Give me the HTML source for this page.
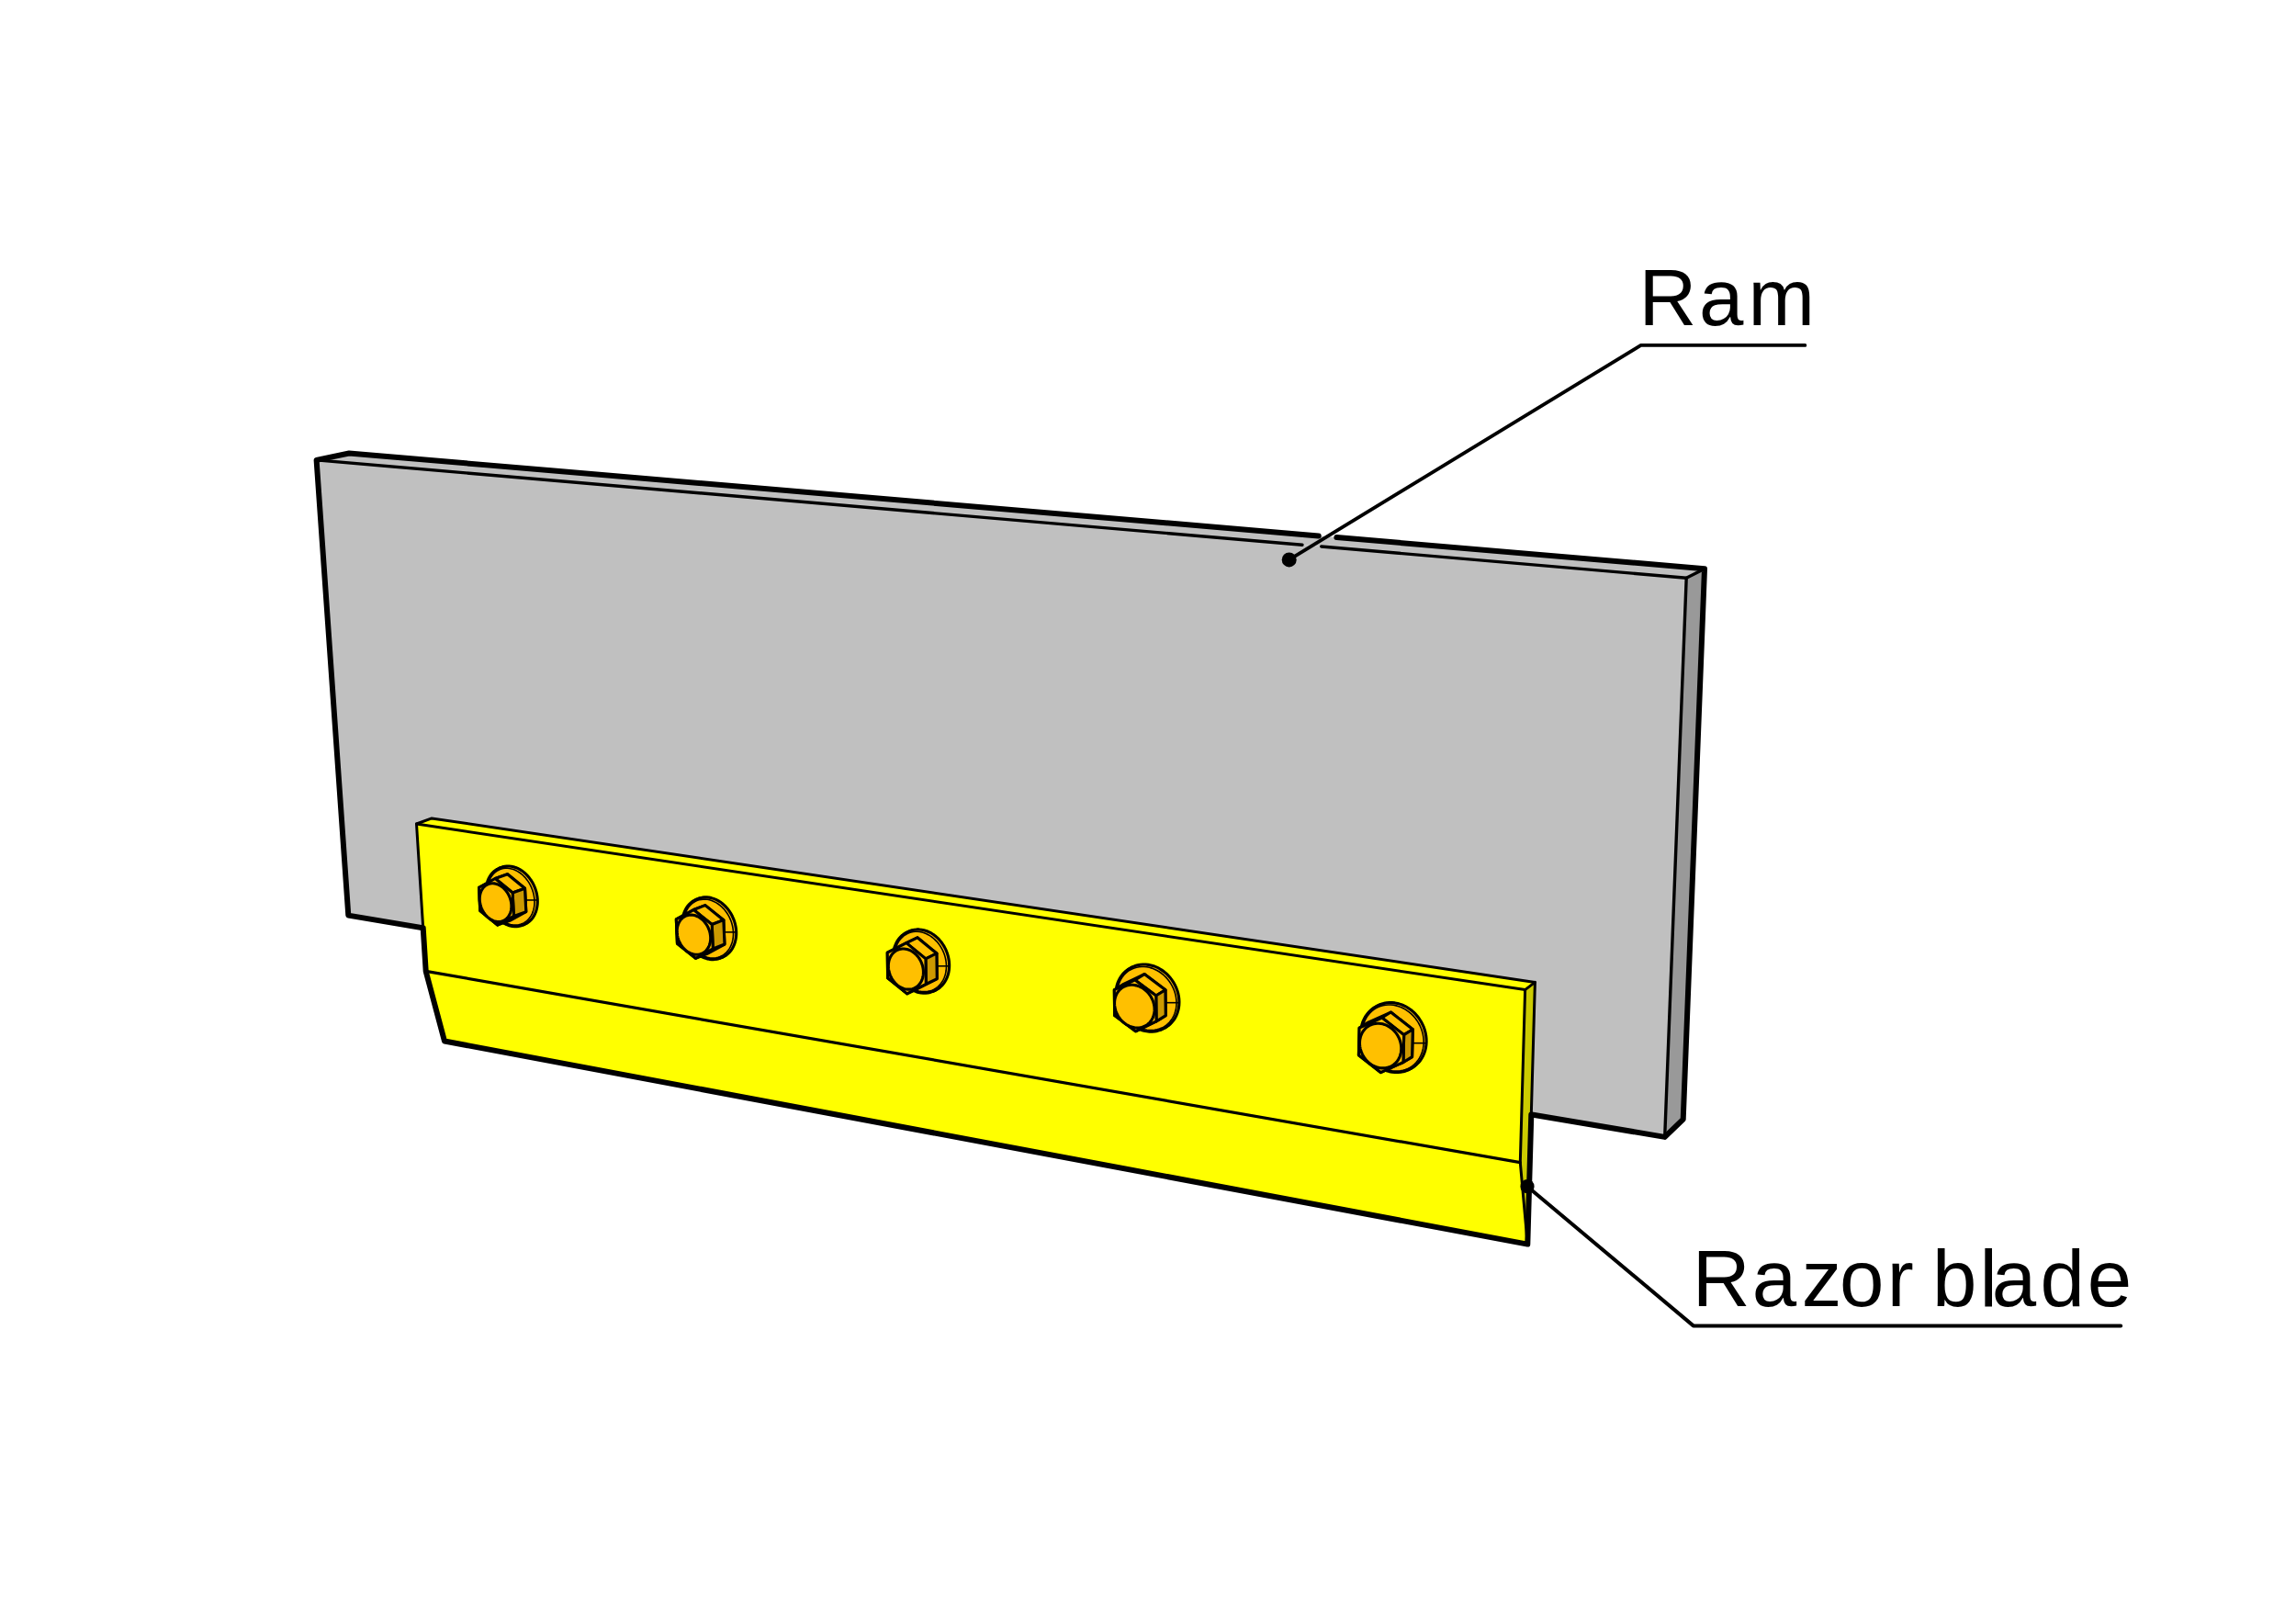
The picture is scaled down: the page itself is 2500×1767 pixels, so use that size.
<!DOCTYPE html>
<html><head><meta charset="utf-8">
<style>
html,body{margin:0;padding:0;background:#fff;width:2500px;height:1767px;overflow:hidden}
svg{display:block}
text{font-family:"Liberation Sans",sans-serif}
</style></head>
<body>
<svg width="2500" height="1767" viewBox="0 0 2500 1767">
<defs>

</defs>
<g stroke-linejoin="round" stroke-linecap="round">
<!-- RAM faces -->
<polygon points="344.6,500.9 1836.2,629.2 1812.7,1237.9 379.3,996.6" fill="#c0c0c0"/>
<polygon points="344.6,500.9 380.1,493.5 1856,619.2 1836.2,629.2" fill="#c0c0c0"/>
<polygon points="1836.2,629.2 1856,619.2 1832.7,1218.7 1812.7,1237.9" fill="#999"/>
<g fill="none" stroke="#000">
<polyline points="344.6,500.9 1418,593.22" stroke-width="3.4"/>
<polyline points="1438.7,595.00 1836.2,629.2 1856,619.2" stroke-width="3.4"/>
<line x1="1836.2" y1="629.2" x2="1812.7" y2="1237.9" stroke-width="3.4"/>
<polyline points="1435.7,583.41 380.1,493.5 344.6,500.9 379.3,996.6 1812.7,1237.9 1832.7,1218.7 1856,619.2 1455.4,585.08" stroke-width="6"/>
</g>
<!-- BLADE faces -->
<polygon points="453.5,897 1660.6,1077.6 1655.3,1265.6 463.7,1057.4" fill="#ffff00"/>
<polygon points="453.5,897 470.1,890.9 1671.4,1069.4 1660.6,1077.6" fill="#ffff00"/>
<polygon points="463.7,1057.4 1655.3,1265.6 1663.3,1354.6 484,1133.5" fill="#ffff00"/>
<polygon points="1660.6,1077.6 1671.4,1069.4 1663.3,1354.6 1655.3,1265.6" fill="#cccc00"/>
<g fill="none" stroke="#000">
<polyline points="453.5,897 1660.6,1077.6 1671.4,1069.4" stroke-width="3"/>
<polyline points="1660.6,1077.6 1655.3,1265.6 1663.3,1354.6" stroke-width="3"/>
<line x1="463.7" y1="1057.4" x2="1655.3" y2="1265.6" stroke-width="3.2"/>
<polyline points="460.7,1010.3 453.5,897 470.1,890.9 1671.4,1069.4 1667.3,1213.4" stroke-width="3"/>
<polyline points="1667.3,1213.4 1663.3,1354.6 484,1133.5 463.7,1057.4 460.7,1010.3" stroke-width="6"/>
</g>
</g>
<!--BOLTS-->
<g stroke-linejoin="round"><path d="M583.72,979.37 L583.77,982.03 L583.63,984.64 L583.29,987.18 L582.76,989.64 L582.05,991.99 L581.15,994.21 L580.07,996.29 L578.83,998.21 L577.44,999.96 L575.89,1001.52 L574.21,1002.89 L572.41,1004.05 L570.50,1004.99 L568.49,1005.70 L566.41,1006.19 L564.26,1006.44 L562.06,1006.46 L559.84,1006.25 L557.60,1005.80 L555.37,1005.11 L553.16,1004.21 L550.98,1003.08 L548.86,1001.75 L546.81,1000.22 L544.85,998.50 L542.99,996.60 L541.24,994.54 L539.62,992.34 L538.14,990.01 L536.82,987.57 L535.65,985.04 L534.66,982.44 L533.85,979.79 L533.22,977.10 L532.78,974.40 L532.53,971.71 L532.48,969.05 L532.62,966.43 L532.96,963.89 L533.49,961.44 L534.20,959.09 L535.10,956.87 L536.18,954.79 L537.42,952.86 L538.81,951.11 L540.36,949.55 L542.04,948.19 L543.84,947.03 L545.75,946.09 L547.76,945.37 L549.84,944.88 L551.99,944.63 L554.18,944.61 L556.41,944.83 L558.65,945.28 L560.88,945.96 L563.09,946.87 L565.27,947.99 L567.39,949.32 L569.44,950.86 L571.40,952.58 L573.26,954.47 L575.01,956.53 L576.63,958.73 L578.11,961.06 L579.43,963.50 L580.60,966.03 L581.59,968.63 L582.40,971.29 L583.03,973.98 L583.47,976.68Z" fill="none" stroke="#000" stroke-width="6.2"/><path d="M581.95,980.00 L582.01,982.66 L581.86,985.27 L581.53,987.81 L581.00,990.27 L580.28,992.62 L579.38,994.84 L578.31,996.92 L577.07,998.84 L575.67,1000.59 L574.12,1002.15 L572.44,1003.52 L570.64,1004.68 L568.73,1005.62 L566.72,1006.33 L564.64,1006.82 L562.49,1007.07 L560.30,1007.09 L558.07,1006.88 L555.84,1006.42 L553.60,1005.74 L551.39,1004.84 L549.22,1003.71 L547.10,1002.38 L545.05,1000.85 L543.08,999.12 L541.22,997.23 L539.47,995.17 L537.86,992.97 L536.38,990.64 L535.05,988.20 L533.89,985.67 L532.89,983.07 L532.08,980.41 L531.45,977.73 L531.01,975.03 L530.76,972.34 L530.71,969.67 L530.86,967.06 L531.19,964.52 L531.72,962.06 L532.44,959.72 L533.34,957.50 L534.41,955.42 L535.65,953.49 L537.05,951.74 L538.59,950.18 L540.27,948.81 L542.08,947.66 L543.99,946.72 L545.99,946.00 L548.08,945.51 L550.22,945.26 L552.42,945.24 L554.64,945.46 L556.88,945.91 L559.11,946.59 L561.33,947.50 L563.50,948.62 L565.62,949.95 L567.67,951.49 L569.63,953.21 L571.50,955.10 L573.24,957.16 L574.86,959.36 L576.34,961.69 L577.67,964.13 L578.83,966.66 L579.82,969.26 L580.64,971.92 L581.27,974.61 L581.71,977.31Z" fill="none" stroke="#000" stroke-width="6.2"/><path d="M583.72,979.37 L583.77,982.03 L583.63,984.64 L583.29,987.18 L582.76,989.64 L582.05,991.99 L581.15,994.21 L580.07,996.29 L578.83,998.21 L577.44,999.96 L575.89,1001.52 L574.21,1002.89 L572.41,1004.05 L570.50,1004.99 L568.49,1005.70 L566.41,1006.19 L564.26,1006.44 L562.06,1006.46 L559.84,1006.25 L557.60,1005.80 L555.37,1005.11 L553.16,1004.21 L550.98,1003.08 L548.86,1001.75 L546.81,1000.22 L544.85,998.50 L542.99,996.60 L541.24,994.54 L539.62,992.34 L538.14,990.01 L536.82,987.57 L535.65,985.04 L534.66,982.44 L533.85,979.79 L533.22,977.10 L532.78,974.40 L532.53,971.71 L532.48,969.05 L532.62,966.43 L532.96,963.89 L533.49,961.44 L534.20,959.09 L535.10,956.87 L536.18,954.79 L537.42,952.86 L538.81,951.11 L540.36,949.55 L542.04,948.19 L543.84,947.03 L545.75,946.09 L547.76,945.37 L549.84,944.88 L551.99,944.63 L554.18,944.61 L556.41,944.83 L558.65,945.28 L560.88,945.96 L563.09,946.87 L565.27,947.99 L567.39,949.32 L569.44,950.86 L571.40,952.58 L573.26,954.47 L575.01,956.53 L576.63,958.73 L578.11,961.06 L579.43,963.50 L580.60,966.03 L581.59,968.63 L582.40,971.29 L583.03,973.98 L583.47,976.68Z" fill="#ffc000"/><path d="M581.95,980.00 L582.01,982.66 L581.86,985.27 L581.53,987.81 L581.00,990.27 L580.28,992.62 L579.38,994.84 L578.31,996.92 L577.07,998.84 L575.67,1000.59 L574.12,1002.15 L572.44,1003.52 L570.64,1004.68 L568.73,1005.62 L566.72,1006.33 L564.64,1006.82 L562.49,1007.07 L560.30,1007.09 L558.07,1006.88 L555.84,1006.42 L553.60,1005.74 L551.39,1004.84 L549.22,1003.71 L547.10,1002.38 L545.05,1000.85 L543.08,999.12 L541.22,997.23 L539.47,995.17 L537.86,992.97 L536.38,990.64 L535.05,988.20 L533.89,985.67 L532.89,983.07 L532.08,980.41 L531.45,977.73 L531.01,975.03 L530.76,972.34 L530.71,969.67 L530.86,967.06 L531.19,964.52 L531.72,962.06 L532.44,959.72 L533.34,957.50 L534.41,955.42 L535.65,953.49 L537.05,951.74 L538.59,950.18 L540.27,948.81 L542.08,947.66 L543.99,946.72 L545.99,946.00 L548.08,945.51 L550.22,945.26 L552.42,945.24 L554.64,945.46 L556.88,945.91 L559.11,946.59 L561.33,947.50 L563.50,948.62 L565.62,949.95 L567.67,951.49 L569.63,953.21 L571.50,955.10 L573.24,957.16 L574.86,959.36 L576.34,961.69 L577.67,964.13 L578.83,966.66 L579.82,969.26 L580.64,971.92 L581.27,974.61 L581.71,977.31Z" fill="#ffc000" stroke="#000" stroke-width="1.6"/><line x1="572.16" y1="979.97" x2="584.99" y2="979.97" stroke="#000" stroke-width="1.6"/><polygon points="521.53,966.26 539.21,956.50 552.60,951.73 571.53,967.30 572.79,992.64 555.10,1002.39 541.72,1007.16 522.78,991.59" fill="#ffc000" stroke="#000" stroke-width="3.1"/><polygon points="539.21,956.50 558.15,972.07 571.53,967.30 552.60,951.73" fill="#ffc000" stroke="#000" stroke-width="3.1"/><polygon points="558.15,972.07 559.40,997.40 572.79,992.64 571.53,967.30" fill="#cc9900" stroke="#000" stroke-width="3.1"/><polygon points="521.53,966.26 539.21,956.50 558.15,972.07 559.40,997.40 541.72,1007.16 522.78,991.59" fill="#ffc000" stroke="#000" stroke-width="3.1"/><path d="M556.85,985.22 L556.89,987.01 L556.79,988.78 L556.56,990.50 L556.21,992.15 L555.72,993.74 L555.12,995.24 L554.39,996.65 L553.55,997.94 L552.61,999.12 L551.57,1000.18 L550.43,1001.10 L549.21,1001.89 L547.92,1002.52 L546.57,1003.00 L545.16,1003.33 L543.71,1003.50 L542.23,1003.52 L540.73,1003.37 L539.21,1003.07 L537.71,1002.61 L536.21,1001.99 L534.74,1001.23 L533.31,1000.33 L531.93,999.30 L530.60,998.14 L529.34,996.86 L528.16,995.47 L527.07,993.98 L526.07,992.41 L525.18,990.76 L524.39,989.05 L523.72,987.29 L523.17,985.50 L522.74,983.68 L522.45,981.86 L522.28,980.04 L522.25,978.25 L522.34,976.48 L522.57,974.76 L522.93,973.11 L523.41,971.52 L524.02,970.02 L524.74,968.61 L525.58,967.32 L526.52,966.13 L527.57,965.08 L528.70,964.16 L529.92,963.37 L531.21,962.74 L532.57,962.26 L533.97,961.93 L535.42,961.76 L536.91,961.74 L538.41,961.89 L539.92,962.19 L541.43,962.65 L542.92,963.27 L544.39,964.02 L545.82,964.93 L547.21,965.96 L548.53,967.12 L549.79,968.40 L550.97,969.79 L552.06,971.28 L553.06,972.85 L553.96,974.50 L554.74,976.21 L555.41,977.97 L555.96,979.76 L556.39,981.58 L556.69,983.40Z" fill="#ffc000" stroke="#000" stroke-width="3.1"/></g>
<g stroke-linejoin="round"><path d="M800.16,1014.46 L800.17,1017.21 L799.97,1019.91 L799.56,1022.54 L798.96,1025.07 L798.16,1027.50 L797.16,1029.79 L795.99,1031.94 L794.64,1033.92 L793.13,1035.72 L791.46,1037.34 L789.66,1038.74 L787.73,1039.93 L785.69,1040.90 L783.55,1041.63 L781.33,1042.13 L779.05,1042.38 L776.73,1042.39 L774.38,1042.16 L772.02,1041.69 L769.66,1040.98 L767.34,1040.03 L765.06,1038.86 L762.84,1037.48 L760.69,1035.89 L758.64,1034.10 L756.71,1032.13 L754.89,1030.00 L753.22,1027.72 L751.70,1025.31 L750.34,1022.78 L749.15,1020.17 L748.15,1017.47 L747.34,1014.72 L746.72,1011.94 L746.30,1009.15 L746.09,1006.37 L746.08,1003.62 L746.28,1000.92 L746.69,998.29 L747.29,995.75 L748.09,993.33 L749.09,991.04 L750.26,988.89 L751.61,986.91 L753.12,985.10 L754.79,983.49 L756.59,982.09 L758.52,980.90 L760.56,979.93 L762.70,979.20 L764.92,978.70 L767.20,978.44 L769.52,978.43 L771.87,978.66 L774.23,979.14 L776.59,979.85 L778.91,980.79 L781.19,981.96 L783.41,983.35 L785.56,984.94 L787.60,986.73 L789.54,988.69 L791.36,990.82 L793.03,993.11 L794.55,995.52 L795.91,998.04 L797.10,1000.66 L798.10,1003.36 L798.91,1006.10 L799.53,1008.88 L799.95,1011.68Z" fill="none" stroke="#000" stroke-width="6.2"/><path d="M798.48,1015.11 L798.49,1017.86 L798.29,1020.56 L797.88,1023.19 L797.28,1025.72 L796.48,1028.15 L795.48,1030.44 L794.31,1032.59 L792.96,1034.57 L791.45,1036.37 L789.78,1037.98 L787.98,1039.39 L786.05,1040.58 L784.01,1041.55 L781.87,1042.28 L779.65,1042.78 L777.37,1043.03 L775.05,1043.04 L772.70,1042.81 L770.34,1042.34 L767.98,1041.63 L765.66,1040.68 L763.38,1039.51 L761.16,1038.13 L759.01,1036.54 L756.97,1034.75 L755.03,1032.78 L753.21,1030.65 L751.54,1028.37 L750.02,1025.96 L748.66,1023.43 L747.47,1020.81 L746.47,1018.12 L745.66,1015.37 L745.04,1012.59 L744.62,1009.80 L744.41,1007.02 L744.40,1004.27 L744.60,1001.57 L745.01,998.94 L745.61,996.40 L746.41,993.98 L747.41,991.68 L748.58,989.54 L749.93,987.56 L751.44,985.75 L753.11,984.14 L754.91,982.73 L756.84,981.54 L758.88,980.58 L761.02,979.84 L763.24,979.35 L765.52,979.09 L767.84,979.08 L770.19,979.31 L772.55,979.79 L774.91,980.50 L777.23,981.44 L779.51,982.61 L781.73,984.00 L783.88,985.59 L785.92,987.38 L787.86,989.34 L789.68,991.47 L791.35,993.75 L792.87,996.17 L794.23,998.69 L795.42,1001.31 L796.42,1004.01 L797.23,1006.75 L797.85,1009.53 L798.27,1012.33Z" fill="none" stroke="#000" stroke-width="6.2"/><path d="M800.16,1014.46 L800.17,1017.21 L799.97,1019.91 L799.56,1022.54 L798.96,1025.07 L798.16,1027.50 L797.16,1029.79 L795.99,1031.94 L794.64,1033.92 L793.13,1035.72 L791.46,1037.34 L789.66,1038.74 L787.73,1039.93 L785.69,1040.90 L783.55,1041.63 L781.33,1042.13 L779.05,1042.38 L776.73,1042.39 L774.38,1042.16 L772.02,1041.69 L769.66,1040.98 L767.34,1040.03 L765.06,1038.86 L762.84,1037.48 L760.69,1035.89 L758.64,1034.10 L756.71,1032.13 L754.89,1030.00 L753.22,1027.72 L751.70,1025.31 L750.34,1022.78 L749.15,1020.17 L748.15,1017.47 L747.34,1014.72 L746.72,1011.94 L746.30,1009.15 L746.09,1006.37 L746.08,1003.62 L746.28,1000.92 L746.69,998.29 L747.29,995.75 L748.09,993.33 L749.09,991.04 L750.26,988.89 L751.61,986.91 L753.12,985.10 L754.79,983.49 L756.59,982.09 L758.52,980.90 L760.56,979.93 L762.70,979.20 L764.92,978.70 L767.20,978.44 L769.52,978.43 L771.87,978.66 L774.23,979.14 L776.59,979.85 L778.91,980.79 L781.19,981.96 L783.41,983.35 L785.56,984.94 L787.60,986.73 L789.54,988.69 L791.36,990.82 L793.03,993.11 L794.55,995.52 L795.91,998.04 L797.10,1000.66 L798.10,1003.36 L798.91,1006.10 L799.53,1008.88 L799.95,1011.68Z" fill="#ffc000"/><path d="M798.48,1015.11 L798.49,1017.86 L798.29,1020.56 L797.88,1023.19 L797.28,1025.72 L796.48,1028.15 L795.48,1030.44 L794.31,1032.59 L792.96,1034.57 L791.45,1036.37 L789.78,1037.98 L787.98,1039.39 L786.05,1040.58 L784.01,1041.55 L781.87,1042.28 L779.65,1042.78 L777.37,1043.03 L775.05,1043.04 L772.70,1042.81 L770.34,1042.34 L767.98,1041.63 L765.66,1040.68 L763.38,1039.51 L761.16,1038.13 L759.01,1036.54 L756.97,1034.75 L755.03,1032.78 L753.21,1030.65 L751.54,1028.37 L750.02,1025.96 L748.66,1023.43 L747.47,1020.81 L746.47,1018.12 L745.66,1015.37 L745.04,1012.59 L744.62,1009.80 L744.41,1007.02 L744.40,1004.27 L744.60,1001.57 L745.01,998.94 L745.61,996.40 L746.41,993.98 L747.41,991.68 L748.58,989.54 L749.93,987.56 L751.44,985.75 L753.11,984.14 L754.91,982.73 L756.84,981.54 L758.88,980.58 L761.02,979.84 L763.24,979.35 L765.52,979.09 L767.84,979.08 L770.19,979.31 L772.55,979.79 L774.91,980.50 L777.23,981.44 L779.51,982.61 L781.73,984.00 L783.88,985.59 L785.92,987.38 L787.86,989.34 L789.68,991.47 L791.35,993.75 L792.87,996.17 L794.23,998.69 L795.42,1001.31 L796.42,1004.01 L797.23,1006.75 L797.85,1009.53 L798.27,1012.33Z" fill="#ffc000" stroke="#000" stroke-width="1.6"/><line x1="788.40" y1="1014.86" x2="801.46" y2="1014.86" stroke="#000" stroke-width="1.6"/><polygon points="736.33,1000.88 755.21,990.52 767.85,985.65 787.84,1001.67 788.96,1028.05 770.08,1038.40 757.44,1043.28 737.44,1027.25" fill="#ffc000" stroke="#000" stroke-width="3.1"/><polygon points="755.21,990.52 775.21,1006.55 787.84,1001.67 767.85,985.65" fill="#ffc000" stroke="#000" stroke-width="3.1"/><polygon points="775.21,1006.55 776.32,1032.92 788.96,1028.05 787.84,1001.67" fill="#cc9900" stroke="#000" stroke-width="3.1"/><polygon points="736.33,1000.88 755.21,990.52 775.21,1006.55 776.32,1032.92 757.44,1043.28 737.44,1027.25" fill="#ffc000" stroke="#000" stroke-width="3.1"/><path d="M773.69,1020.43 L773.69,1022.29 L773.56,1024.12 L773.28,1025.89 L772.87,1027.60 L772.33,1029.24 L771.66,1030.79 L770.87,1032.24 L769.96,1033.58 L768.94,1034.80 L767.81,1035.88 L766.59,1036.83 L765.29,1037.64 L763.91,1038.29 L762.47,1038.79 L760.97,1039.12 L759.43,1039.29 L757.86,1039.30 L756.27,1039.14 L754.68,1038.82 L753.09,1038.34 L751.52,1037.71 L749.98,1036.92 L748.48,1035.98 L747.03,1034.91 L745.65,1033.70 L744.34,1032.37 L743.11,1030.93 L741.98,1029.39 L740.96,1027.76 L740.04,1026.06 L739.24,1024.29 L738.56,1022.47 L738.01,1020.61 L737.59,1018.73 L737.31,1016.85 L737.17,1014.97 L737.16,1013.11 L737.30,1011.29 L737.57,1009.51 L737.98,1007.80 L738.52,1006.16 L739.19,1004.61 L739.98,1003.16 L740.90,1001.82 L741.92,1000.61 L743.04,999.52 L744.26,998.57 L745.56,997.76 L746.94,997.11 L748.39,996.62 L749.88,996.28 L751.42,996.11 L752.99,996.10 L754.58,996.26 L756.18,996.58 L757.76,997.06 L759.34,997.70 L760.88,998.49 L762.38,999.42 L763.82,1000.50 L765.21,1001.70 L766.52,1003.03 L767.74,1004.47 L768.87,1006.01 L769.90,1007.64 L770.82,1009.35 L771.62,1011.12 L772.30,1012.93 L772.85,1014.79 L773.26,1016.67 L773.54,1018.55Z" fill="#ffc000" stroke="#000" stroke-width="3.1"/></g>
<g stroke-linejoin="round"><path d="M1032.10,1050.38 L1032.05,1053.19 L1031.79,1055.95 L1031.32,1058.63 L1030.64,1061.22 L1029.75,1063.69 L1028.67,1066.03 L1027.40,1068.22 L1025.95,1070.24 L1024.33,1072.08 L1022.55,1073.72 L1020.64,1075.15 L1018.59,1076.36 L1016.44,1077.34 L1014.19,1078.08 L1011.86,1078.58 L1009.47,1078.83 L1007.03,1078.84 L1004.57,1078.59 L1002.11,1078.10 L999.66,1077.36 L997.24,1076.39 L994.88,1075.19 L992.58,1073.77 L990.36,1072.13 L988.25,1070.30 L986.26,1068.29 L984.40,1066.10 L982.69,1063.77 L981.15,1061.30 L979.77,1058.71 L978.58,1056.03 L977.58,1053.28 L976.78,1050.47 L976.18,1047.63 L975.80,1044.77 L975.63,1041.93 L975.68,1039.12 L975.94,1036.36 L976.41,1033.68 L977.09,1031.09 L977.98,1028.62 L979.06,1026.28 L980.33,1024.09 L981.78,1022.07 L983.40,1020.23 L985.17,1018.59 L987.09,1017.16 L989.13,1015.95 L991.29,1014.97 L993.54,1014.23 L995.87,1013.73 L998.26,1013.47 L1000.70,1013.47 L1003.15,1013.72 L1005.62,1014.21 L1008.07,1014.94 L1010.49,1015.91 L1012.85,1017.12 L1015.15,1018.54 L1017.37,1020.17 L1019.48,1022.00 L1021.47,1024.02 L1023.32,1026.20 L1025.03,1028.54 L1026.58,1031.01 L1027.96,1033.59 L1029.15,1036.27 L1030.15,1039.03 L1030.95,1041.84 L1031.54,1044.68 L1031.93,1047.53Z" fill="none" stroke="#000" stroke-width="6.2"/><path d="M1030.44,1051.19 L1030.39,1054.00 L1030.13,1056.76 L1029.66,1059.44 L1028.98,1062.03 L1028.09,1064.50 L1027.01,1066.84 L1025.74,1069.03 L1024.29,1071.05 L1022.67,1072.89 L1020.90,1074.53 L1018.98,1075.96 L1016.94,1077.17 L1014.78,1078.15 L1012.53,1078.89 L1010.20,1079.39 L1007.81,1079.65 L1005.37,1079.65 L1002.92,1079.40 L1000.45,1078.91 L998.00,1078.18 L995.58,1077.21 L993.22,1076.00 L990.92,1074.58 L988.70,1072.95 L986.59,1071.11 L984.60,1069.10 L982.74,1066.92 L981.04,1064.58 L979.49,1062.11 L978.11,1059.53 L976.92,1056.85 L975.92,1054.09 L975.12,1051.28 L974.53,1048.44 L974.14,1045.58 L973.97,1042.74 L974.02,1039.93 L974.28,1037.17 L974.75,1034.49 L975.43,1031.90 L976.32,1029.43 L977.40,1027.09 L978.67,1024.90 L980.12,1022.88 L981.74,1021.04 L983.52,1019.40 L985.43,1017.97 L987.48,1016.76 L989.63,1015.78 L991.88,1015.04 L994.21,1014.54 L996.60,1014.29 L999.04,1014.28 L1001.50,1014.53 L1003.96,1015.02 L1006.41,1015.75 L1008.83,1016.73 L1011.19,1017.93 L1013.49,1019.35 L1015.71,1020.99 L1017.82,1022.82 L1019.81,1024.83 L1021.67,1027.02 L1023.38,1029.35 L1024.92,1031.82 L1026.30,1034.41 L1027.49,1037.09 L1028.49,1039.84 L1029.29,1042.65 L1029.89,1045.49 L1030.27,1048.35Z" fill="none" stroke="#000" stroke-width="6.2"/><path d="M1032.10,1050.38 L1032.05,1053.19 L1031.79,1055.95 L1031.32,1058.63 L1030.64,1061.22 L1029.75,1063.69 L1028.67,1066.03 L1027.40,1068.22 L1025.95,1070.24 L1024.33,1072.08 L1022.55,1073.72 L1020.64,1075.15 L1018.59,1076.36 L1016.44,1077.34 L1014.19,1078.08 L1011.86,1078.58 L1009.47,1078.83 L1007.03,1078.84 L1004.57,1078.59 L1002.11,1078.10 L999.66,1077.36 L997.24,1076.39 L994.88,1075.19 L992.58,1073.77 L990.36,1072.13 L988.25,1070.30 L986.26,1068.29 L984.40,1066.10 L982.69,1063.77 L981.15,1061.30 L979.77,1058.71 L978.58,1056.03 L977.58,1053.28 L976.78,1050.47 L976.18,1047.63 L975.80,1044.77 L975.63,1041.93 L975.68,1039.12 L975.94,1036.36 L976.41,1033.68 L977.09,1031.09 L977.98,1028.62 L979.06,1026.28 L980.33,1024.09 L981.78,1022.07 L983.40,1020.23 L985.17,1018.59 L987.09,1017.16 L989.13,1015.95 L991.29,1014.97 L993.54,1014.23 L995.87,1013.73 L998.26,1013.47 L1000.70,1013.47 L1003.15,1013.72 L1005.62,1014.21 L1008.07,1014.94 L1010.49,1015.91 L1012.85,1017.12 L1015.15,1018.54 L1017.37,1020.17 L1019.48,1022.00 L1021.47,1024.02 L1023.32,1026.20 L1025.03,1028.54 L1026.58,1031.01 L1027.96,1033.59 L1029.15,1036.27 L1030.15,1039.03 L1030.95,1041.84 L1031.54,1044.68 L1031.93,1047.53Z" fill="#ffc000"/><path d="M1030.44,1051.19 L1030.39,1054.00 L1030.13,1056.76 L1029.66,1059.44 L1028.98,1062.03 L1028.09,1064.50 L1027.01,1066.84 L1025.74,1069.03 L1024.29,1071.05 L1022.67,1072.89 L1020.90,1074.53 L1018.98,1075.96 L1016.94,1077.17 L1014.78,1078.15 L1012.53,1078.89 L1010.20,1079.39 L1007.81,1079.65 L1005.37,1079.65 L1002.92,1079.40 L1000.45,1078.91 L998.00,1078.18 L995.58,1077.21 L993.22,1076.00 L990.92,1074.58 L988.70,1072.95 L986.59,1071.11 L984.60,1069.10 L982.74,1066.92 L981.04,1064.58 L979.49,1062.11 L978.11,1059.53 L976.92,1056.85 L975.92,1054.09 L975.12,1051.28 L974.53,1048.44 L974.14,1045.58 L973.97,1042.74 L974.02,1039.93 L974.28,1037.17 L974.75,1034.49 L975.43,1031.90 L976.32,1029.43 L977.40,1027.09 L978.67,1024.90 L980.12,1022.88 L981.74,1021.04 L983.52,1019.40 L985.43,1017.97 L987.48,1016.76 L989.63,1015.78 L991.88,1015.04 L994.21,1014.54 L996.60,1014.29 L999.04,1014.28 L1001.50,1014.53 L1003.96,1015.02 L1006.41,1015.75 L1008.83,1016.73 L1011.19,1017.93 L1013.49,1019.35 L1015.71,1020.99 L1017.82,1022.82 L1019.81,1024.83 L1021.67,1027.02 L1023.38,1029.35 L1024.92,1031.82 L1026.30,1034.41 L1027.49,1037.09 L1028.49,1039.84 L1029.29,1042.65 L1029.89,1045.49 L1030.27,1048.35Z" fill="#ffc000" stroke="#000" stroke-width="1.6"/><line x1="1020.07" y1="1051.78" x2="1033.44" y2="1051.78" stroke="#000" stroke-width="1.6"/><polygon points="966.25,1037.13 986.91,1026.67 998.86,1020.81 1019.89,1037.97 1020.26,1065.58 999.60,1076.04 987.65,1081.90 966.62,1064.74" fill="#ffc000" stroke="#000" stroke-width="3.1"/><polygon points="986.91,1026.67 1007.94,1043.83 1019.89,1037.97 998.86,1020.81" fill="#ffc000" stroke="#000" stroke-width="3.1"/><polygon points="1007.94,1043.83 1008.31,1071.44 1020.26,1065.58 1019.89,1037.97" fill="#cc9900" stroke="#000" stroke-width="3.1"/><polygon points="966.25,1037.13 986.91,1026.67 1007.94,1043.83 1008.31,1071.44 987.65,1081.90 966.62,1064.74" fill="#ffc000" stroke="#000" stroke-width="3.1"/><path d="M1005.45,1057.94 L1005.42,1059.84 L1005.24,1061.70 L1004.92,1063.51 L1004.46,1065.26 L1003.86,1066.93 L1003.13,1068.51 L1002.27,1069.99 L1001.30,1071.35 L1000.20,1072.59 L999.00,1073.70 L997.71,1074.67 L996.33,1075.48 L994.87,1076.15 L993.35,1076.65 L991.78,1076.98 L990.16,1077.15 L988.52,1077.16 L986.86,1076.99 L985.20,1076.66 L983.54,1076.16 L981.91,1075.51 L980.31,1074.70 L978.76,1073.73 L977.26,1072.63 L975.84,1071.39 L974.49,1070.03 L973.24,1068.56 L972.08,1066.98 L971.04,1065.31 L970.11,1063.57 L969.30,1061.76 L968.63,1059.90 L968.09,1058.00 L967.69,1056.08 L967.43,1054.15 L967.31,1052.23 L967.34,1050.33 L967.52,1048.47 L967.84,1046.66 L968.30,1044.91 L968.90,1043.24 L969.63,1041.66 L970.49,1040.18 L971.47,1038.82 L972.56,1037.57 L973.76,1036.47 L975.05,1035.50 L976.43,1034.68 L977.89,1034.02 L979.41,1033.52 L980.98,1033.18 L982.60,1033.01 L984.24,1033.01 L985.90,1033.18 L987.56,1033.51 L989.22,1034.00 L990.85,1034.66 L992.45,1035.47 L994.00,1036.43 L995.50,1037.54 L996.92,1038.77 L998.27,1040.14 L999.52,1041.61 L1000.68,1043.19 L1001.72,1044.86 L1002.65,1046.60 L1003.46,1048.41 L1004.13,1050.27 L1004.67,1052.17 L1005.08,1054.09 L1005.33,1056.02Z" fill="#ffc000" stroke="#000" stroke-width="3.1"/></g>
<g stroke-linejoin="round"><path d="M1282.41,1090.98 L1282.30,1093.95 L1281.94,1096.85 L1281.34,1099.68 L1280.50,1102.40 L1279.43,1105.00 L1278.14,1107.46 L1276.64,1109.75 L1274.93,1111.87 L1273.04,1113.79 L1270.97,1115.50 L1268.75,1116.98 L1266.38,1118.23 L1263.89,1119.24 L1261.29,1119.99 L1258.61,1120.49 L1255.87,1120.73 L1253.08,1120.70 L1250.27,1120.41 L1247.46,1119.86 L1244.67,1119.05 L1241.93,1117.99 L1239.24,1116.69 L1236.64,1115.16 L1234.14,1113.41 L1231.76,1111.45 L1229.52,1109.29 L1227.44,1106.96 L1225.54,1104.48 L1223.82,1101.85 L1222.30,1099.10 L1220.99,1096.26 L1219.91,1093.34 L1219.05,1090.36 L1218.43,1087.35 L1218.06,1084.33 L1217.93,1081.33 L1218.04,1078.36 L1218.40,1075.45 L1219.00,1072.63 L1219.83,1069.90 L1220.90,1067.30 L1222.19,1064.85 L1223.70,1062.55 L1225.40,1060.44 L1227.29,1058.52 L1229.36,1056.81 L1231.59,1055.32 L1233.96,1054.07 L1236.45,1053.07 L1239.04,1052.31 L1241.72,1051.82 L1244.46,1051.58 L1247.25,1051.61 L1250.06,1051.90 L1252.87,1052.45 L1255.66,1053.25 L1258.41,1054.31 L1261.09,1055.61 L1263.70,1057.15 L1266.20,1058.90 L1268.57,1060.86 L1270.81,1063.01 L1272.89,1065.34 L1274.80,1067.83 L1276.52,1070.46 L1278.04,1073.20 L1279.34,1076.05 L1280.43,1078.97 L1281.28,1081.95 L1281.90,1084.96 L1282.28,1087.97Z" fill="none" stroke="#000" stroke-width="6.2"/><path d="M1281.01,1091.85 L1280.90,1094.81 L1280.54,1097.72 L1279.94,1100.55 L1279.10,1103.27 L1278.04,1105.87 L1276.75,1108.33 L1275.24,1110.62 L1273.54,1112.74 L1271.64,1114.66 L1269.58,1116.36 L1267.35,1117.85 L1264.98,1119.10 L1262.49,1120.11 L1259.90,1120.86 L1257.22,1121.36 L1254.47,1121.59 L1251.69,1121.57 L1248.88,1121.28 L1246.07,1120.73 L1243.28,1119.92 L1240.53,1118.86 L1237.84,1117.56 L1235.24,1116.03 L1232.74,1114.28 L1230.37,1112.31 L1228.13,1110.16 L1226.05,1107.83 L1224.14,1105.34 L1222.42,1102.72 L1220.90,1099.97 L1219.60,1097.13 L1218.51,1094.20 L1217.66,1091.23 L1217.04,1088.22 L1216.66,1085.20 L1216.53,1082.20 L1216.64,1079.23 L1217.00,1076.32 L1217.60,1073.49 L1218.44,1070.77 L1219.51,1068.17 L1220.80,1065.71 L1222.30,1063.42 L1224.01,1061.30 L1225.90,1059.39 L1227.97,1057.68 L1230.19,1056.19 L1232.56,1054.94 L1235.05,1053.93 L1237.64,1053.18 L1240.32,1052.68 L1243.07,1052.45 L1245.86,1052.47 L1248.67,1052.76 L1251.48,1053.31 L1254.27,1054.12 L1257.01,1055.18 L1259.70,1056.48 L1262.30,1058.01 L1264.80,1059.77 L1267.18,1061.73 L1269.41,1063.88 L1271.49,1066.21 L1273.40,1068.70 L1275.12,1071.32 L1276.64,1074.07 L1277.95,1076.92 L1279.03,1079.84 L1279.89,1082.81 L1280.50,1085.82 L1280.88,1088.84Z" fill="none" stroke="#000" stroke-width="6.2"/><path d="M1282.41,1090.98 L1282.30,1093.95 L1281.94,1096.85 L1281.34,1099.68 L1280.50,1102.40 L1279.43,1105.00 L1278.14,1107.46 L1276.64,1109.75 L1274.93,1111.87 L1273.04,1113.79 L1270.97,1115.50 L1268.75,1116.98 L1266.38,1118.23 L1263.89,1119.24 L1261.29,1119.99 L1258.61,1120.49 L1255.87,1120.73 L1253.08,1120.70 L1250.27,1120.41 L1247.46,1119.86 L1244.67,1119.05 L1241.93,1117.99 L1239.24,1116.69 L1236.64,1115.16 L1234.14,1113.41 L1231.76,1111.45 L1229.52,1109.29 L1227.44,1106.96 L1225.54,1104.48 L1223.82,1101.85 L1222.30,1099.10 L1220.99,1096.26 L1219.91,1093.34 L1219.05,1090.36 L1218.43,1087.35 L1218.06,1084.33 L1217.93,1081.33 L1218.04,1078.36 L1218.40,1075.45 L1219.00,1072.63 L1219.83,1069.90 L1220.90,1067.30 L1222.19,1064.85 L1223.70,1062.55 L1225.40,1060.44 L1227.29,1058.52 L1229.36,1056.81 L1231.59,1055.32 L1233.96,1054.07 L1236.45,1053.07 L1239.04,1052.31 L1241.72,1051.82 L1244.46,1051.58 L1247.25,1051.61 L1250.06,1051.90 L1252.87,1052.45 L1255.66,1053.25 L1258.41,1054.31 L1261.09,1055.61 L1263.70,1057.15 L1266.20,1058.90 L1268.57,1060.86 L1270.81,1063.01 L1272.89,1065.34 L1274.80,1067.83 L1276.52,1070.46 L1278.04,1073.20 L1279.34,1076.05 L1280.43,1078.97 L1281.28,1081.95 L1281.90,1084.96 L1282.28,1087.97Z" fill="#ffc000"/><path d="M1281.01,1091.85 L1280.90,1094.81 L1280.54,1097.72 L1279.94,1100.55 L1279.10,1103.27 L1278.04,1105.87 L1276.75,1108.33 L1275.24,1110.62 L1273.54,1112.74 L1271.64,1114.66 L1269.58,1116.36 L1267.35,1117.85 L1264.98,1119.10 L1262.49,1120.11 L1259.90,1120.86 L1257.22,1121.36 L1254.47,1121.59 L1251.69,1121.57 L1248.88,1121.28 L1246.07,1120.73 L1243.28,1119.92 L1240.53,1118.86 L1237.84,1117.56 L1235.24,1116.03 L1232.74,1114.28 L1230.37,1112.31 L1228.13,1110.16 L1226.05,1107.83 L1224.14,1105.34 L1222.42,1102.72 L1220.90,1099.97 L1219.60,1097.13 L1218.51,1094.20 L1217.66,1091.23 L1217.04,1088.22 L1216.66,1085.20 L1216.53,1082.20 L1216.64,1079.23 L1217.00,1076.32 L1217.60,1073.49 L1218.44,1070.77 L1219.51,1068.17 L1220.80,1065.71 L1222.30,1063.42 L1224.01,1061.30 L1225.90,1059.39 L1227.97,1057.68 L1230.19,1056.19 L1232.56,1054.94 L1235.05,1053.93 L1237.64,1053.18 L1240.32,1052.68 L1243.07,1052.45 L1245.86,1052.47 L1248.67,1052.76 L1251.48,1053.31 L1254.27,1054.12 L1257.01,1055.18 L1259.70,1056.48 L1262.30,1058.01 L1264.80,1059.77 L1267.18,1061.73 L1269.41,1063.88 L1271.49,1066.21 L1273.40,1068.70 L1275.12,1071.32 L1276.64,1074.07 L1277.95,1076.92 L1279.03,1079.84 L1279.89,1082.81 L1280.50,1085.82 L1280.88,1088.84Z" fill="#ffc000" stroke="#000" stroke-width="1.6"/><line x1="1269.11" y1="1091.67" x2="1283.93" y2="1091.67" stroke="#000" stroke-width="1.6"/><polygon points="1213.33,1077.70 1223.51,1071.37 1246.06,1060.59 1268.94,1077.72 1269.27,1105.62 1259.09,1111.95 1236.54,1122.73 1213.66,1105.61" fill="#ffc000" stroke="#000" stroke-width="3.1"/><polygon points="1235.87,1066.92 1258.76,1084.04 1268.94,1077.72 1246.06,1060.59" fill="#ffc000" stroke="#000" stroke-width="3.1"/><polygon points="1258.76,1084.04 1259.09,1111.95 1269.27,1105.62 1268.94,1077.72" fill="#cc9900" stroke="#000" stroke-width="3.1"/><polygon points="1213.33,1077.70 1235.87,1066.92 1258.76,1084.04 1259.09,1111.95 1236.54,1122.73 1213.66,1105.61" fill="#ffc000" stroke="#000" stroke-width="3.1"/><path d="M1257.08,1098.88 L1257.01,1100.89 L1256.77,1102.85 L1256.36,1104.76 L1255.80,1106.60 L1255.07,1108.36 L1254.20,1110.02 L1253.19,1111.57 L1252.04,1112.99 L1250.76,1114.29 L1249.36,1115.44 L1247.86,1116.45 L1246.26,1117.29 L1244.58,1117.97 L1242.82,1118.48 L1241.01,1118.82 L1239.16,1118.98 L1237.28,1118.96 L1235.38,1118.76 L1233.48,1118.39 L1231.60,1117.85 L1229.74,1117.13 L1227.93,1116.25 L1226.17,1115.22 L1224.48,1114.03 L1222.88,1112.71 L1221.37,1111.26 L1219.96,1109.68 L1218.67,1108.00 L1217.51,1106.23 L1216.49,1104.37 L1215.60,1102.45 L1214.87,1100.48 L1214.29,1098.47 L1213.88,1096.43 L1213.62,1094.40 L1213.53,1092.37 L1213.61,1090.36 L1213.85,1088.40 L1214.26,1086.49 L1214.82,1084.65 L1215.54,1082.89 L1216.41,1081.24 L1217.43,1079.69 L1218.58,1078.26 L1219.86,1076.96 L1221.26,1075.81 L1222.76,1074.80 L1224.36,1073.96 L1226.04,1073.28 L1227.79,1072.77 L1229.60,1072.43 L1231.46,1072.27 L1233.34,1072.29 L1235.24,1072.49 L1237.14,1072.86 L1239.02,1073.41 L1240.88,1074.12 L1242.69,1075.00 L1244.45,1076.03 L1246.13,1077.22 L1247.74,1078.54 L1249.25,1080.00 L1250.66,1081.57 L1251.94,1083.25 L1253.10,1085.02 L1254.13,1086.88 L1255.01,1088.80 L1255.75,1090.77 L1256.32,1092.79 L1256.74,1094.82 L1256.99,1096.86Z" fill="#ffc000" stroke="#000" stroke-width="3.1"/></g>
<g stroke-linejoin="round"><path d="M1551.59,1134.16 L1551.41,1137.25 L1550.98,1140.28 L1550.29,1143.22 L1549.36,1146.06 L1548.19,1148.77 L1546.79,1151.33 L1545.17,1153.72 L1543.35,1155.92 L1541.33,1157.92 L1539.14,1159.70 L1536.79,1161.25 L1534.29,1162.55 L1531.67,1163.60 L1528.95,1164.39 L1526.14,1164.91 L1523.27,1165.16 L1520.37,1165.13 L1517.44,1164.83 L1514.52,1164.25 L1511.63,1163.41 L1508.78,1162.31 L1506.01,1160.96 L1503.33,1159.36 L1500.76,1157.54 L1498.32,1155.49 L1496.03,1153.25 L1493.91,1150.83 L1491.97,1148.23 L1490.23,1145.50 L1488.71,1142.64 L1487.41,1139.67 L1486.34,1136.63 L1485.51,1133.53 L1484.93,1130.39 L1484.60,1127.25 L1484.53,1124.12 L1484.71,1121.03 L1485.14,1118.00 L1485.83,1115.05 L1486.76,1112.22 L1487.93,1109.51 L1489.33,1106.95 L1490.94,1104.56 L1492.77,1102.35 L1494.78,1100.35 L1496.98,1098.57 L1499.33,1097.02 L1501.83,1095.72 L1504.45,1094.67 L1507.17,1093.88 L1509.98,1093.37 L1512.85,1093.12 L1515.75,1093.15 L1518.68,1093.45 L1521.60,1094.02 L1524.49,1094.86 L1527.34,1095.96 L1530.11,1097.32 L1532.79,1098.91 L1535.36,1100.74 L1537.80,1102.78 L1540.09,1105.02 L1542.21,1107.45 L1544.15,1110.04 L1545.88,1112.78 L1547.41,1115.64 L1548.71,1118.60 L1549.78,1121.65 L1550.61,1124.75 L1551.19,1127.88 L1551.52,1131.03Z" fill="none" stroke="#000" stroke-width="6.2"/><path d="M1550.19,1135.02 L1550.01,1138.11 L1549.57,1141.14 L1548.89,1144.08 L1547.96,1146.92 L1546.79,1149.63 L1545.39,1152.19 L1543.77,1154.58 L1541.95,1156.78 L1539.93,1158.78 L1537.74,1160.57 L1535.38,1162.11 L1532.89,1163.42 L1530.27,1164.47 L1527.55,1165.25 L1524.74,1165.77 L1521.87,1166.02 L1518.96,1165.99 L1516.04,1165.69 L1513.12,1165.12 L1510.22,1164.28 L1507.38,1163.17 L1504.61,1161.82 L1501.92,1160.22 L1499.35,1158.40 L1496.92,1156.36 L1494.63,1154.11 L1492.51,1151.69 L1490.57,1149.10 L1488.83,1146.36 L1487.31,1143.50 L1486.00,1140.53 L1484.93,1137.49 L1484.11,1134.39 L1483.53,1131.26 L1483.20,1128.11 L1483.12,1124.98 L1483.30,1121.89 L1483.74,1118.86 L1484.43,1115.92 L1485.36,1113.08 L1486.53,1110.37 L1487.92,1107.81 L1489.54,1105.42 L1491.37,1103.22 L1493.38,1101.22 L1495.58,1099.43 L1497.93,1097.89 L1500.43,1096.58 L1503.05,1095.53 L1505.77,1094.75 L1508.58,1094.23 L1511.44,1093.98 L1514.35,1094.01 L1517.28,1094.31 L1520.20,1094.88 L1523.09,1095.72 L1525.93,1096.83 L1528.71,1098.18 L1531.39,1099.78 L1533.96,1101.60 L1536.40,1103.64 L1538.69,1105.89 L1540.81,1108.31 L1542.74,1110.90 L1544.48,1113.64 L1546.01,1116.50 L1547.31,1119.47 L1548.38,1122.51 L1549.21,1125.61 L1549.79,1128.74 L1550.12,1131.89Z" fill="none" stroke="#000" stroke-width="6.2"/><path d="M1551.59,1134.16 L1551.41,1137.25 L1550.98,1140.28 L1550.29,1143.22 L1549.36,1146.06 L1548.19,1148.77 L1546.79,1151.33 L1545.17,1153.72 L1543.35,1155.92 L1541.33,1157.92 L1539.14,1159.70 L1536.79,1161.25 L1534.29,1162.55 L1531.67,1163.60 L1528.95,1164.39 L1526.14,1164.91 L1523.27,1165.16 L1520.37,1165.13 L1517.44,1164.83 L1514.52,1164.25 L1511.63,1163.41 L1508.78,1162.31 L1506.01,1160.96 L1503.33,1159.36 L1500.76,1157.54 L1498.32,1155.49 L1496.03,1153.25 L1493.91,1150.83 L1491.97,1148.23 L1490.23,1145.50 L1488.71,1142.64 L1487.41,1139.67 L1486.34,1136.63 L1485.51,1133.53 L1484.93,1130.39 L1484.60,1127.25 L1484.53,1124.12 L1484.71,1121.03 L1485.14,1118.00 L1485.83,1115.05 L1486.76,1112.22 L1487.93,1109.51 L1489.33,1106.95 L1490.94,1104.56 L1492.77,1102.35 L1494.78,1100.35 L1496.98,1098.57 L1499.33,1097.02 L1501.83,1095.72 L1504.45,1094.67 L1507.17,1093.88 L1509.98,1093.37 L1512.85,1093.12 L1515.75,1093.15 L1518.68,1093.45 L1521.60,1094.02 L1524.49,1094.86 L1527.34,1095.96 L1530.11,1097.32 L1532.79,1098.91 L1535.36,1100.74 L1537.80,1102.78 L1540.09,1105.02 L1542.21,1107.45 L1544.15,1110.04 L1545.88,1112.78 L1547.41,1115.64 L1548.71,1118.60 L1549.78,1121.65 L1550.61,1124.75 L1551.19,1127.88 L1551.52,1131.03Z" fill="#ffc000"/><path d="M1550.19,1135.02 L1550.01,1138.11 L1549.57,1141.14 L1548.89,1144.08 L1547.96,1146.92 L1546.79,1149.63 L1545.39,1152.19 L1543.77,1154.58 L1541.95,1156.78 L1539.93,1158.78 L1537.74,1160.57 L1535.38,1162.11 L1532.89,1163.42 L1530.27,1164.47 L1527.55,1165.25 L1524.74,1165.77 L1521.87,1166.02 L1518.96,1165.99 L1516.04,1165.69 L1513.12,1165.12 L1510.22,1164.28 L1507.38,1163.17 L1504.61,1161.82 L1501.92,1160.22 L1499.35,1158.40 L1496.92,1156.36 L1494.63,1154.11 L1492.51,1151.69 L1490.57,1149.10 L1488.83,1146.36 L1487.31,1143.50 L1486.00,1140.53 L1484.93,1137.49 L1484.11,1134.39 L1483.53,1131.26 L1483.20,1128.11 L1483.12,1124.98 L1483.30,1121.89 L1483.74,1118.86 L1484.43,1115.92 L1485.36,1113.08 L1486.53,1110.37 L1487.92,1107.81 L1489.54,1105.42 L1491.37,1103.22 L1493.38,1101.22 L1495.58,1099.43 L1497.93,1097.89 L1500.43,1096.58 L1503.05,1095.53 L1505.77,1094.75 L1508.58,1094.23 L1511.44,1093.98 L1514.35,1094.01 L1517.28,1094.31 L1520.20,1094.88 L1523.09,1095.72 L1525.93,1096.83 L1528.71,1098.18 L1531.39,1099.78 L1533.96,1101.60 L1536.40,1103.64 L1538.69,1105.89 L1540.81,1108.31 L1542.74,1110.90 L1544.48,1113.64 L1546.01,1116.50 L1547.31,1119.47 L1548.38,1122.51 L1549.21,1125.61 L1549.79,1128.74 L1550.12,1131.89Z" fill="#ffc000" stroke="#000" stroke-width="1.6"/><line x1="1537.94" y1="1135.66" x2="1553.18" y2="1135.66" stroke="#000" stroke-width="1.6"/><polygon points="1479.41,1148.84 1480.13,1119.04 1489.77,1113.11 1514.40,1102.04 1538.30,1120.76 1537.58,1150.56 1527.95,1156.48 1503.31,1167.56" fill="#ffc000" stroke="#000" stroke-width="3.1"/><polygon points="1504.76,1107.97 1528.67,1126.69 1538.30,1120.76 1514.40,1102.04" fill="#ffc000" stroke="#000" stroke-width="3.1"/><polygon points="1528.67,1126.69 1527.95,1156.48 1537.58,1150.56 1538.30,1120.76" fill="#cc9900" stroke="#000" stroke-width="3.1"/><polygon points="1480.13,1119.04 1504.76,1107.97 1528.67,1126.69 1527.95,1156.48 1503.31,1167.56 1479.41,1148.84" fill="#ffc000" stroke="#000" stroke-width="3.1"/><path d="M1525.79,1141.95 L1525.66,1144.04 L1525.37,1146.09 L1524.91,1148.08 L1524.28,1149.99 L1523.49,1151.82 L1522.54,1153.55 L1521.45,1155.17 L1520.22,1156.65 L1518.86,1158.00 L1517.38,1159.21 L1515.79,1160.25 L1514.10,1161.13 L1512.33,1161.84 L1510.49,1162.37 L1508.60,1162.72 L1506.66,1162.89 L1504.70,1162.87 L1502.72,1162.67 L1500.75,1162.28 L1498.79,1161.71 L1496.87,1160.97 L1495.00,1160.05 L1493.19,1158.98 L1491.45,1157.74 L1489.81,1156.36 L1488.26,1154.85 L1486.83,1153.21 L1485.52,1151.46 L1484.35,1149.61 L1483.32,1147.68 L1482.44,1145.68 L1481.71,1143.62 L1481.15,1141.53 L1480.76,1139.41 L1480.54,1137.29 L1480.49,1135.17 L1480.61,1133.09 L1480.91,1131.04 L1481.37,1129.05 L1482.00,1127.13 L1482.79,1125.30 L1483.73,1123.58 L1484.83,1121.96 L1486.06,1120.47 L1487.42,1119.12 L1488.90,1117.92 L1490.49,1116.87 L1492.18,1115.99 L1493.95,1115.28 L1495.78,1114.75 L1497.68,1114.40 L1499.62,1114.24 L1501.58,1114.26 L1503.56,1114.46 L1505.53,1114.85 L1507.48,1115.41 L1509.40,1116.16 L1511.28,1117.07 L1513.09,1118.15 L1514.82,1119.38 L1516.47,1120.76 L1518.02,1122.28 L1519.45,1123.92 L1520.76,1125.67 L1521.93,1127.51 L1522.96,1129.45 L1523.84,1131.45 L1524.56,1133.50 L1525.12,1135.60 L1525.52,1137.72 L1525.74,1139.84Z" fill="#ffc000" stroke="#000" stroke-width="3.1"/></g>
<!--/BOLTS-->
<!-- leaders -->
<g fill="none" stroke="#000" stroke-linejoin="round" stroke-linecap="round">
<polyline points="1403.7,609.4 1786.7,375.9 1965.4,375.9" stroke-width="3.8"/>
<polyline points="1663,1291.7 1843.8,1443.4 2309.2,1443.4" stroke-width="4"/>
</g>
<circle cx="1403.7" cy="609.4" r="8" fill="#000"/>
<circle cx="1663" cy="1291.7" r="7.6" fill="#000"/>
<text x="1784.6 1849.9 1903.5" y="354.2" font-size="87" fill="#000">Ram</text>
<text x="1842.7 1907.7 1961.7 2003.0 2054.7 2080 2103.9 2155.5 2168.75 2221.4 2272.8" y="1422.1" font-size="87" fill="#000">Razor blade</text>
</svg>
</body></html>
